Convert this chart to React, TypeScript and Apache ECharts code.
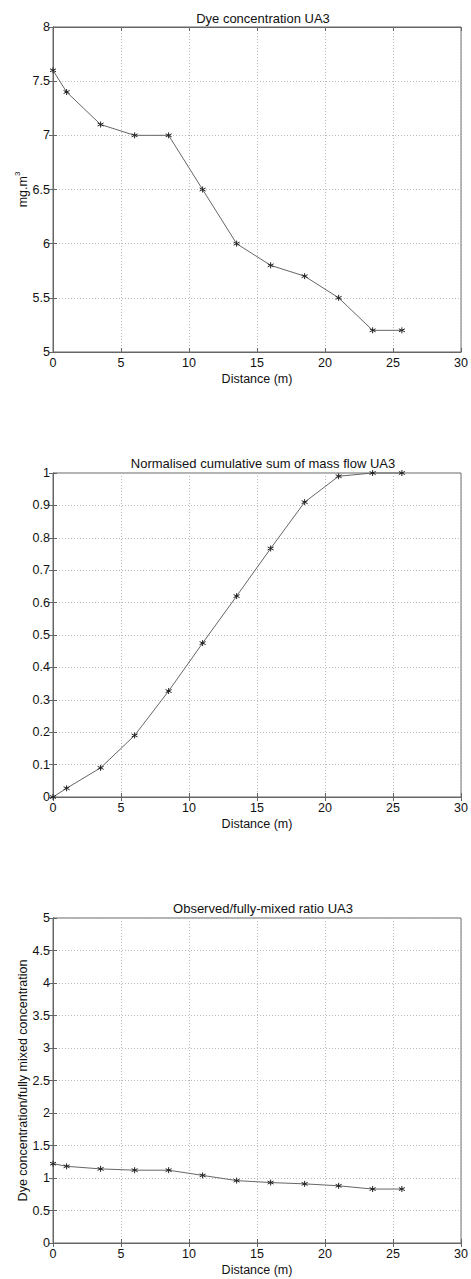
import React, { useEffect, useRef } from "react";
import * as echarts from "echarts";

const distance = [0, 1, 3.5, 6, 8.5, 11, 13.5, 16, 18.5, 21, 23.5, 25.65];
const dyeConcentration = [7.6, 7.4, 7.1, 7.0, 7.0, 6.5, 6.0, 5.8, 5.7, 5.5, 5.2, 5.2];
const cumulativeMassFlow = [0, 0.027, 0.09, 0.19, 0.327, 0.475, 0.62, 0.767, 0.91, 0.99, 1.0, 1.0];
const mixedRatio = [1.22, 1.18, 1.14, 1.12, 1.12, 1.04, 0.96, 0.93, 0.91, 0.88, 0.83, 0.83];

const titles = [
  "Dye concentration UA3",
  "Normalised cumulative sum of mass flow UA3",
  "Observed/fully-mixed ratio UA3",
];
const xName = "Distance (m)";
const yNames = ["{a|mg.m}{b|3}", "", "Dye concentration/fully mixed concentration"];
const yRanges: [number, number, number][] = [
  [5, 8, 0.5],
  [0, 1, 0.1],
  [0, 5, 0.5],
];
const xRange: [number, number, number] = [0, 30, 5];

const FONT = "Liberation Sans, Arial, sans-serif";
const TEXT = "#111";
const AXIS = "#666";
const GRIDC = "#bbb";
const STAR = "path://M0,-5L0,5M-4.33,-2.5L4.33,2.5M-4.33,2.5L4.33,-2.5";

export default function App() {
  const ref = useRef<HTMLDivElement>(null);
  useEffect(() => {
    if (!ref.current) return;
    const chart = echarts.init(ref.current, undefined, { renderer: "svg" });
    const gridTops = [27, 473, 918];
    const gridHeights = [325, 324, 325];
    const seriesData = [dyeConcentration, cumulativeMassFlow, mixedRatio];

    const grid = gridTops.map((t, i) => ({
      left: 53,
      top: t,
      width: 410,
      height: gridHeights[i],
      show: true,
      borderColor: AXIS,
      borderWidth: 1,
      backgroundColor: "#fff",
    }));

    const xAxis: any[] = [];
    const yAxis: any[] = [];
    for (let i = 0; i < 3; i++) {
      xAxis.push({
        type: "value",
        gridIndex: i,
        min: xRange[0],
        max: xRange[1],
        interval: xRange[2],
        position: "bottom",
        name: xName,
        nameLocation: "middle",
        nameGap: 20,
        nameMoveOverlap: false,
        nameTextStyle: { fontFamily: FONT, fontSize: 12.5, color: TEXT },
        axisLine: { show: true, lineStyle: { color: AXIS } },
        axisTick: { show: true, inside: true, length: 4, lineStyle: { color: AXIS } },
        axisLabel: { fontFamily: FONT, fontSize: 12.5, color: TEXT, margin: 4 },
        splitLine: { show: true, lineStyle: { color: GRIDC, type: [1, 2] } },
      });
      xAxis.push({
        type: "value",
        gridIndex: i,
        min: xRange[0],
        max: xRange[1],
        interval: xRange[2],
        position: "top",
        axisLine: { show: true, lineStyle: { color: AXIS } },
        axisTick: { show: true, inside: true, length: 4, lineStyle: { color: AXIS } },
        axisLabel: { show: false },
        splitLine: { show: false },
      });
      const [ymin, ymax, yint] = yRanges[i];
      yAxis.push({
        type: "value",
        gridIndex: i,
        min: ymin,
        max: ymax,
        interval: yint,
        position: "left",
        name: yNames[i],
        nameLocation: "middle",
        nameGap: 24,
        nameMoveOverlap: false,
        nameRotate: 90,
        nameTextStyle: {
          fontFamily: FONT,
          fontSize: 12.5,
          color: TEXT,
          rich: {
            a: { fontFamily: FONT, fontSize: 12.5, color: TEXT, lineHeight: 16, verticalAlign: "bottom" },
            b: { fontFamily: FONT, fontSize: 8, color: TEXT, lineHeight: 16, verticalAlign: "top" },
          },
        },
        axisLine: { show: true, lineStyle: { color: AXIS } },
        axisTick: { show: true, inside: true, length: 4, lineStyle: { color: AXIS } },
        axisLabel: { fontFamily: FONT, fontSize: 12.5, color: TEXT, margin: 3 },
        splitLine: { show: true, lineStyle: { color: GRIDC, type: [1, 2] } },
      });
      yAxis.push({
        type: "value",
        gridIndex: i,
        min: ymin,
        max: ymax,
        interval: yint,
        position: "right",
        axisLine: { show: true, lineStyle: { color: AXIS } },
        axisTick: { show: true, inside: true, length: 4, lineStyle: { color: AXIS } },
        axisLabel: { show: false },
        splitLine: { show: false },
      });
    }

    const series = seriesData.map((vals, i) => ({
      type: "line",
      xAxisIndex: i * 2,
      yAxisIndex: i * 2,
      data: distance.map((d, k) => [d, vals[k]]),
      symbol: STAR,
      symbolSize: 6,
      showSymbol: true,
      lineStyle: { color: "#666", width: 1 },
      itemStyle: { color: "none", borderColor: "#222", borderWidth: 1 },
      emphasis: { disabled: true },
      clip: false,
    }));

    chart.setOption({
      animation: false,
      backgroundColor: "#fff",
      title: titles.map((t, i) => ({
        text: t,
        left: 258,
        textAlign: "center",
        top: [7, 452, 897][i],
        textStyle: { fontFamily: FONT, fontSize: 13, fontWeight: "normal", color: TEXT },
      })),
      grid,
      xAxis,
      yAxis,
      series,
    });
    return () => chart.dispose();
  }, []);
  return (
    <div
      ref={ref}
      style={{ position: "absolute", left: 0, top: 0, width: 471, height: 1279 }}
    />
  );
}
